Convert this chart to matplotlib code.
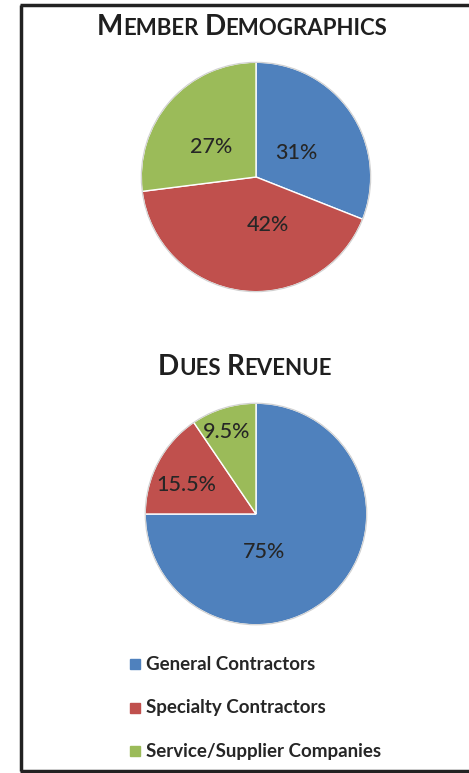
import matplotlib
matplotlib.use('Agg')
import matplotlib.pyplot as plt
from matplotlib.lines import Line2D

# 数据
categories = ['General Contractors', 'Specialty Contractors', 'Service/Supplier Companies']
member_pct = [31, 42, 27]
dues_pct = [75, 15.5, 9.5]
member_labels = ['31%', '42%', '27%']
dues_labels = ['75%', '15.5%', '9.5%']
colors = ['#4F81BD', '#C0504D', '#9BBB59']

W, H = 469, 773
FONT = ['Lato', 'DejaVu Sans']
TEXT_COLOR = '#262626'

plt.rcParams['font.family'] = FONT

fig = plt.figure(figsize=(W / 100, H / 100), dpi=100)
fig.patch.set_facecolor('white')


def px_axes(cx, cy, r):
    """根据像素中心和半径创建饼图坐标轴"""
    return fig.add_axes([(cx - r) / W, 1 - (cy + r) / H, 2 * r / W, 2 * r / H])


def draw_pie(ax, values, labels, label_pos):
    ax.pie(values, colors=colors, startangle=90, counterclock=False,
           radius=1.0, wedgeprops=dict(edgecolor='white', linewidth=1.0))
    for lab, (x, y) in zip(labels, label_pos):
        ax.text(x, y, lab, ha='center', va='center', fontsize=15.5,
                color=TEXT_COLOR, fontweight='medium')
    # 外圈淡灰描边
    circ = plt.Circle((0, 0), 1.0, fill=False, edgecolor='#d0d0d0', linewidth=0.8)
    ax.add_patch(circ)
    ax.set_xlim(-1.02, 1.02)
    ax.set_ylim(-1.02, 1.02)
    ax.set_aspect('equal')
    ax.axis('off')


def smallcaps_title(text, cx, cy, big=20, small=16):
    """绘制小型大写字母标题（首字母大，其余小）"""
    renderer = fig.canvas.get_renderer()
    pieces = []
    for word in text.split():
        pieces.append([(word[0], big), (word[1:].upper(), small)])
    objs = []
    total = 0
    gap = small * 100 / 72 * 0.28
    for wi, word in enumerate(pieces):
        for s, fs in word:
            t = fig.text(0, 1 - cy / H, s, fontsize=fs, fontweight='bold',
                         color='#1f1f1f', ha='left', va='baseline')
            wpx = t.get_window_extent(renderer).width
            objs.append((t, total))
            total += wpx
        if wi < len(pieces) - 1:
            total += gap
    x0 = cx - total / 2
    for t, off in objs:
        t.set_x((x0 + off) / W)


# 上：Member Demographics
ax1 = px_axes(256, 177, 117)
draw_pie(ax1, member_pct, member_labels, [(0.35, 0.21), (0.10, -0.42), (-0.39, 0.26)])

# 下：Dues Revenue
ax2 = px_axes(256, 514, 113)
draw_pie(ax2, dues_pct, dues_labels, [(0.07, -0.345), (-0.63, 0.26), (-0.27, 0.74)])

smallcaps_title('Member Demographics', 242, 35)
smallcaps_title('Dues Revenue', 245, 375)

# 图例
legend_y = [664, 708, 751]
for cat, col, y in zip(categories, colors, legend_y):
    fig.add_artist(Line2D([135 / W], [1 - y / H], marker='s', markersize=6.5,
                          color=col, linestyle='none'))
    fig.text(146 / W, 1 - y / H, cat, fontsize=13.5, fontweight='bold',
             color=TEXT_COLOR, ha='left', va='center')

# 边框
border = dict(color='#222222', linewidth=2.5, solid_capstyle='butt')
fig.add_artist(Line2D([21 / W, 21 / W], [1 - 5 / H, 1 - 771 / H], **border))
fig.add_artist(Line2D([20 / W, 1.0], [1 - 5 / H, 1 - 5 / H], **border))
fig.add_artist(Line2D([20 / W, 1.0], [1 - 771 / H, 1 - 771 / H], **border))

fig.savefig('out.png', dpi=100, facecolor='white')
